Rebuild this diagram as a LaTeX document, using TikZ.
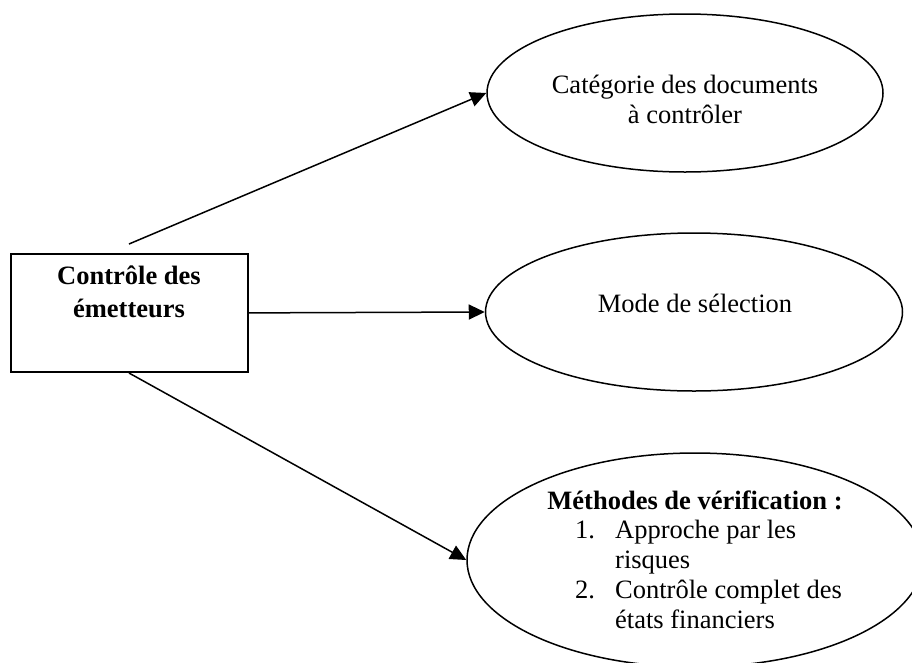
\documentclass[tikz,border=0pt]{standalone}
\usepackage{fontspec}
\setmainfont{Liberation Serif}
\usetikzlibrary{shapes.geometric,arrows.meta}
\tikzset{
  boxnode/.style={draw=black, line width=1.8pt, rectangle, inner sep=0pt, minimum width=237pt, minimum height=118pt},
  ellnode/.style={draw=black, line width=1.5pt, ellipse, inner sep=0pt},
  txt/.style={inner sep=0pt, anchor=base, font=\fontsize{26.5}{30}\selectfont},
  btxt/.style={txt, font=\fontsize{26.5}{30}\selectfont\bfseries},
  arr/.style={draw=black, line width=1.5pt, -{Triangle[length=16pt,width=15pt]}}
}
\begin{document}
\begin{tikzpicture}[x=1pt,y=-1pt]
\useasboundingbox (0,0) rectangle (912,662);
\clip (0,0) rectangle (912,662);
% central box
\node[boxnode, anchor=north west] (box) at (10,253) {};
\node[btxt] (boxt1) at (129,284) {Contrôle des};
\node[btxt] (boxt2) at (129,317) {émetteurs};
% ellipses
\node[ellnode, minimum width=396pt, minimum height=158pt] (e1) at (685,93) {};
\node[txt] (e1t1) at (685,93) {Catégorie des documents};
\node[txt] (e1t2) at (685,123) {à contrôler};
\node[ellnode, minimum width=417pt, minimum height=158pt] (e2) at (694,312) {};
\node[txt] (e2t) at (695,312) {Mode de sélection};
\node[ellnode, minimum width=456pt, minimum height=214pt] (e3) at (695,560) {};
\node[btxt] (e3t) at (695,509) {Méthodes de vérification :};
\node[txt, anchor=base west] (e3list) at (575,538) {%
  \begin{tabular}[t]{@{}p{40pt}@{}l@{}}
  1. & Approche par les\\
     & risques\\
  2. & Contrôle complet des\\
     & états financiers
  \end{tabular}};
% connectors
\coordinate (s1) at (129,244);
\coordinate (s3) at (129,373);
\draw[arr] (s1) -- (e1.west);
\draw[arr] (box.east) -- (e2.west);
\draw[arr] (s3) -- (e3.west);
\end{tikzpicture}
\end{document}
